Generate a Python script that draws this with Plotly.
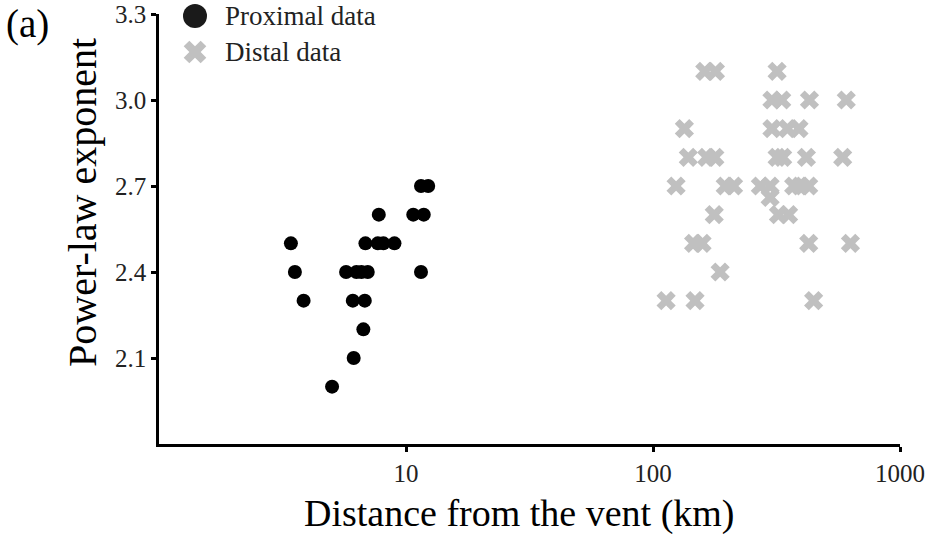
import plotly.graph_objects as go

# Proximal data (distance km, exponent)
prox_x = [11.5, 12.3, 7.76, 10.7, 11.8, 3.42, 6.85, 7.69, 8.1, 8.98,
          3.55, 5.72, 6.3, 6.6, 7.0, 11.5, 3.85, 6.09, 6.81, 6.72, 6.14, 5.02]
prox_y = [2.7, 2.7, 2.6, 2.6, 2.6, 2.5, 2.5, 2.5, 2.5, 2.5,
          2.4, 2.4, 2.4, 2.4, 2.4, 2.4, 2.3, 2.3, 2.3, 2.2, 2.1, 2.0]

# Distal data
dist_x = [162, 179, 318,
          303, 332, 430, 606,
          134, 303, 350, 390,
          139, 165, 178, 318, 335, 418, 586,
          124, 196, 212, 272, 298, 298, 371, 395, 427,
          177, 322, 354,
          146, 158, 427, 630,
          187,
          113, 148, 447]
dist_y = [3.1, 3.1, 3.1,
          3.0, 3.0, 3.0, 3.0,
          2.9, 2.9, 2.9, 2.9,
          2.8, 2.8, 2.8, 2.8, 2.8, 2.8, 2.8,
          2.7, 2.7, 2.7, 2.7, 2.7, 2.66, 2.7, 2.7, 2.7,
          2.6, 2.6, 2.6,
          2.5, 2.5, 2.5, 2.5,
          2.4,
          2.3, 2.3, 2.3]

series_names = ["Proximal data", "Distal data"]
x_ticks = [10, 100, 1000]
y_ticks = [2.1, 2.4, 2.7, 3.0, 3.3]

FONT = "Liberation Serif"
W, H = 926, 534
ML, MR, MT, MB = 159, 26, 14, 90
PW, PH = W - ML - MR, H - MT - MB
PROX_COLOR = "#000000"
DIST_COLOR = "#c0c0c0"


def px_to_paper(px, py):
    return (px - ML) / PW, 1 - (py - MT) / PH


fig = go.Figure()
fig.add_trace(go.Scatter(x=prox_x, y=prox_y, mode="markers", name=series_names[0],
                         showlegend=False,
                         marker=dict(symbol="circle", size=14, color=PROX_COLOR)))
fig.add_trace(go.Scatter(x=dist_x, y=dist_y, mode="markers", name=series_names[1],
                         showlegend=False,
                         marker=dict(symbol="x", size=17, color=DIST_COLOR,
                                     line=dict(width=0))))

# manual legend drawn on an overlay axis in paper units
leg_pos = [px_to_paper(195, 16), px_to_paper(195, 52)]
fig.add_trace(go.Scatter(x=[leg_pos[0][0]], y=[leg_pos[0][1]], xaxis="x2", yaxis="y2",
                         mode="markers", showlegend=False, cliponaxis=False, hoverinfo="skip",
                         marker=dict(symbol="circle", size=24, color="#1a1a1a")))
fig.add_trace(go.Scatter(x=[leg_pos[1][0]], y=[leg_pos[1][1]], xaxis="x2", yaxis="y2",
                         mode="markers", showlegend=False, cliponaxis=False, hoverinfo="skip",
                         marker=dict(symbol="x", size=20, color=DIST_COLOR,
                                     line=dict(width=0))))

annotations = []
for (lx, ly), name in zip(leg_pos, series_names):
    tx = lx + (223 - 195) / PW
    annotations.append(dict(text=name, x=tx, y=ly, xref="paper", yref="paper",
                            xanchor="left", yanchor="middle", showarrow=False,
                            font=dict(family=FONT, size=27, color="#222222")))

for text, px, py, size, angle in [
    ("Distance from the vent (km)", 519, 513, 38, 0),
    ("Power-law exponent", 82, 203, 40, -90),
    ("(a)", 27, 24, 39, 0),
]:
    ax, ay = px_to_paper(px, py)
    annotations.append(dict(text=text, x=ax, y=ay, xref="paper", yref="paper",
                            xanchor="center", yanchor="middle", showarrow=False,
                            textangle=angle, font=dict(family=FONT, size=size, color="#000000")))

fig.update_layout(
    width=W, height=H,
    margin=dict(l=ML, r=MR, t=MT, b=MB, pad=0, autoexpand=False),
    plot_bgcolor="white", paper_bgcolor="white",
    font=dict(family=FONT, color="#000000"),
    showlegend=False,
    xaxis=dict(type="log", range=[0, 3], tickvals=x_ticks,
               ticktext=[str(v) for v in x_ticks], automargin=False,
               showgrid=False, zeroline=False, showline=True, linecolor="black",
               linewidth=2.5, ticks="outside", ticklen=5, tickwidth=2.5,
               tickcolor="black", tickfont=dict(family=FONT, size=25, color="#222222")),
    yaxis=dict(range=[1.8, 3.3], tickvals=y_ticks, automargin=False,
               ticktext=["%.1f" % v for v in y_ticks],
               showgrid=False, zeroline=False, showline=True, linecolor="black",
               linewidth=2.5, ticks="outside", ticklen=5, tickwidth=2.5,
               tickcolor="black", tickfont=dict(family=FONT, size=25, color="#222222")),
    xaxis2=dict(overlaying="x", range=[0, 1], visible=False, fixedrange=True),
    yaxis2=dict(overlaying="y", range=[0, 1], visible=False, fixedrange=True),
    annotations=annotations,
)

fig.write_html("out.html")
